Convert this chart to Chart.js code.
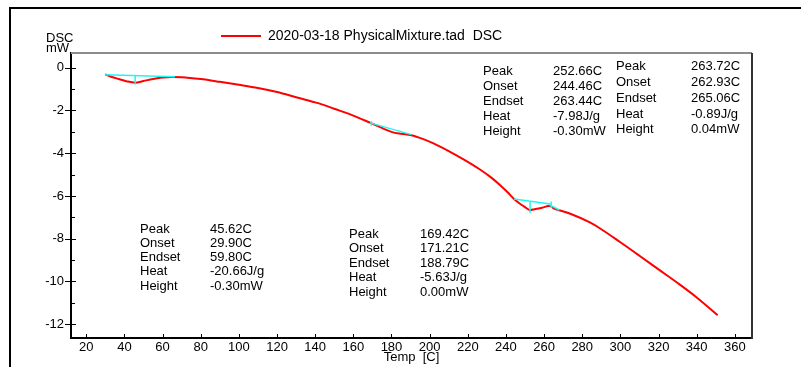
<!DOCTYPE html>
<html>
<head>
<meta charset="utf-8">
<script src="https://cdn.jsdelivr.net/npm/chart.js@4.4.1/dist/chart.umd.min.js"></script>
<style>
    html, body { margin: 0; padding: 0; background: #fff; }
</style>
</head>
<body>
<canvas id="dsc" width="801" height="367"></canvas>
<script>
(function () {
    'use strict';

    // DSC curve: temperature [C] and heat flow [mW]
    var TEMP = [29.9, 33, 37, 41, 45.6, 50, 55, 60, 65, 70, 80, 90, 100, 110, 120, 130, 142, 150,
        160, 168.7, 172, 176, 180, 184, 188, 191, 196, 202, 210, 218, 226, 232, 237, 241, 244, 247,
        250, 252.7, 255, 259, 263, 263.7, 265.6, 268.3, 273.4, 284, 289, 300, 310, 320, 331, 340, 351];
    var DSC = [-0.31, -0.42, -0.53, -0.63, -0.70, -0.62, -0.53, -0.46, -0.43, -0.44, -0.53, -0.66,
        -0.80, -0.95, -1.14, -1.38, -1.67, -1.92, -2.24, -2.57, -2.70, -2.86, -3.00, -3.08, -3.12,
        -3.17, -3.32, -3.54, -3.90, -4.30, -4.74, -5.12, -5.50, -5.84, -6.12, -6.34, -6.52, -6.66,
        -6.62, -6.55, -6.46, -6.50, -6.61, -6.68, -6.82, -7.24, -7.50, -8.17, -8.80, -9.44, -10.14,
        -10.75, -11.58];

    // Cyan baselines and peak markers of the evaluated events
    var MARK_T = [
        [29.9, 66.5], [45.62, 45.62],
        [168.7, 190.5], [169.42, 169.42],
        [244.2, 263.4], [252.66, 252.66],
        [263.72, 263.72], [262.9, 268.0]
    ];
    var MARK_V = [
        [-0.33, -0.42], [-0.35, -0.78],
        [-2.58, -3.13], [-2.50, -2.72],
        [-6.14, -6.38], [-6.27, -6.80],
        [-6.26, -6.56], [-6.42, -6.66]
    ];

    var X_TICKS = [20, 40, 60, 80, 100, 120, 140, 160, 180, 200, 220, 240, 260, 280, 300, 320, 340, 360];
    var Y_TICKS = [0, -2, -4, -6, -8, -10, -12];
    var Y_MINOR = [-1, -3, -5, -7, -9, -11];

    var SERIES_NAME = '2020-03-18 PhysicalMixture.tad  DSC';
    var ROW_LABELS = ['Peak', 'Onset', 'Endset', 'Heat', 'Height'];
    var EVENT_1 = ['45.62C', '29.90C', '59.80C', '-20.66J/g', '-0.30mW'];
    var EVENT_2 = ['169.42C', '171.21C', '188.79C', '-5.63J/g', '0.00mW'];
    var EVENT_3 = ['252.66C', '244.46C', '263.44C', '-7.98J/g', '-0.30mW'];
    var EVENT_4 = ['263.72C', '262.93C', '265.06C', '-0.89J/g', '0.04mW'];

    var FAMILY = '"Liberation Sans", Arial, sans-serif';

    function toPoints(xs, ys) {
        return xs.map(function (x, i) { return { x: x, y: ys[i] }; });
    }

    function drawBlock(ctx, values, x0, x1, rows) {
        for (var i = 0; i < ROW_LABELS.length; i++) {
            ctx.fillText(ROW_LABELS[i], x0, rows[i]);
            ctx.fillText(values[i], x1, rows[i]);
        }
    }

    var decor = {
        id: 'decor',
        beforeDraw: function (chart) {
            var ctx = chart.ctx;
            ctx.save();
            ctx.fillStyle = '#fff';
            ctx.fillRect(0, 0, chart.width, chart.height);
            ctx.strokeStyle = '#000';
            ctx.lineWidth = 2;
            ctx.beginPath();
            ctx.moveTo(10, chart.height);
            ctx.lineTo(10, 8);
            ctx.lineTo(chart.width, 8);
            ctx.stroke();
            ctx.restore();
        },
        afterDraw: function (chart) {
            var ctx = chart.ctx;
            var a = chart.chartArea;
            var xs = chart.scales.x, ys = chart.scales.y;
            ctx.save();

            // top and right frame of the plot
            ctx.lineWidth = 2;
            ctx.strokeStyle = '#8c8c8c';
            ctx.beginPath();
            ctx.moveTo(a.left, a.top);
            ctx.lineTo(a.right, a.top);
            ctx.stroke();
            ctx.strokeStyle = '#333';
            ctx.beginPath();
            ctx.moveTo(a.right, a.top);
            ctx.lineTo(a.right, a.bottom + 1);
            ctx.stroke();

            // tick marks
            ctx.strokeStyle = '#000';
            ctx.lineWidth = 1;
            ctx.beginPath();
            X_TICKS.forEach(function (v) {
                var px = Math.round(xs.getPixelForValue(v)) + 0.5;
                ctx.moveTo(px, a.bottom);
                ctx.lineTo(px, a.bottom - 4);
            });
            Y_TICKS.forEach(function (v) {
                var py = Math.round(ys.getPixelForValue(v)) + 0.5;
                ctx.moveTo(a.left - 6, py);
                ctx.lineTo(a.left + 5, py);
            });
            Y_MINOR.forEach(function (v) {
                var py = Math.round(ys.getPixelForValue(v)) + 0.5;
                ctx.moveTo(a.left, py);
                ctx.lineTo(a.left + 4, py);
            });
            ctx.stroke();

            ctx.fillStyle = '#000';
            ctx.font = '13px ' + FAMILY;
            ctx.textBaseline = 'middle';
            ctx.textAlign = 'left';
            ctx.fillText('DSC', 46, 38);
            ctx.fillText('mW', 46, 48);

            // event annotations
            drawBlock(ctx, EVENT_1, 140, 210, [229, 243, 257, 271, 286]);
            drawBlock(ctx, EVENT_2, 349, 420, [234, 248, 263, 277, 292]);
            drawBlock(ctx, EVENT_3, 483, 553, [71, 86, 101, 116, 131]);
            drawBlock(ctx, EVENT_4, 616, 691, [66, 82, 98, 114, 129]);

            // legend
            ctx.strokeStyle = '#ff0000';
            ctx.lineWidth = 2;
            ctx.beginPath();
            ctx.moveTo(221, 36);
            ctx.lineTo(261, 36);
            ctx.stroke();
            ctx.font = '14px ' + FAMILY;
            ctx.fillText(SERIES_NAME, 268, 36);
            ctx.restore();
        }
    };

    var datasets = [];
    MARK_T.forEach(function (t, i) {
        datasets.push({
            data: toPoints(t, MARK_V[i]),
            borderColor: '#22f4f4',
            borderWidth: 1.5,
            pointRadius: 0,
            tension: 0,
            order: 0
        });
    });
    datasets.push({
        label: SERIES_NAME,
        data: toPoints(TEMP, DSC),
        borderColor: '#ff0000',
        borderWidth: 2,
        pointRadius: 0,
        cubicInterpolationMode: 'monotone',
        order: 1
    });

    new Chart(document.getElementById('dsc'), {
        type: 'line',
        data: { datasets: datasets },
        options: {
            responsive: false,
            animation: false,
            events: [],
            layout: { padding: { left: 0, top: 53, right: 49, bottom: 0 } },
            plugins: {
                legend: { display: false },
                tooltip: { enabled: false }
            },
            scales: {
                x: {
                    type: 'linear',
                    min: 12,
                    max: 369,
                    grid: { display: false, drawTicks: false },
                    border: { display: true, color: '#000', width: 2 },
                    afterBuildTicks: function (s) {
                        s.ticks = X_TICKS.map(function (v) { return { value: v }; });
                    },
                    afterFit: function (s) { s.height = 29; },
                    ticks: {
                        color: '#000',
                        font: { family: FAMILY, size: 13 },
                        padding: 2,
                        maxRotation: 0,
                        autoSkip: false
                    },
                    title: {
                        display: true,
                        text: 'Temp  [C]',
                        color: '#000',
                        font: { family: FAMILY, size: 13 },
                        padding: { top: 0, bottom: 2 }
                    }
                },
                y: {
                    min: -12.65,
                    max: 0.69,
                    grid: { display: false, drawTicks: false },
                    border: { display: true, color: '#000', width: 2 },
                    afterBuildTicks: function (s) {
                        s.ticks = Y_TICKS.map(function (v) { return { value: v }; });
                    },
                    afterFit: function (s) { s.width = 71; },
                    ticks: {
                        color: '#000',
                        font: { family: FAMILY, size: 13 },
                        padding: 7,
                        autoSkip: false
                    }
                }
            }
        },
        plugins: [decor]
    });
})();
</script>
</body>
</html>
